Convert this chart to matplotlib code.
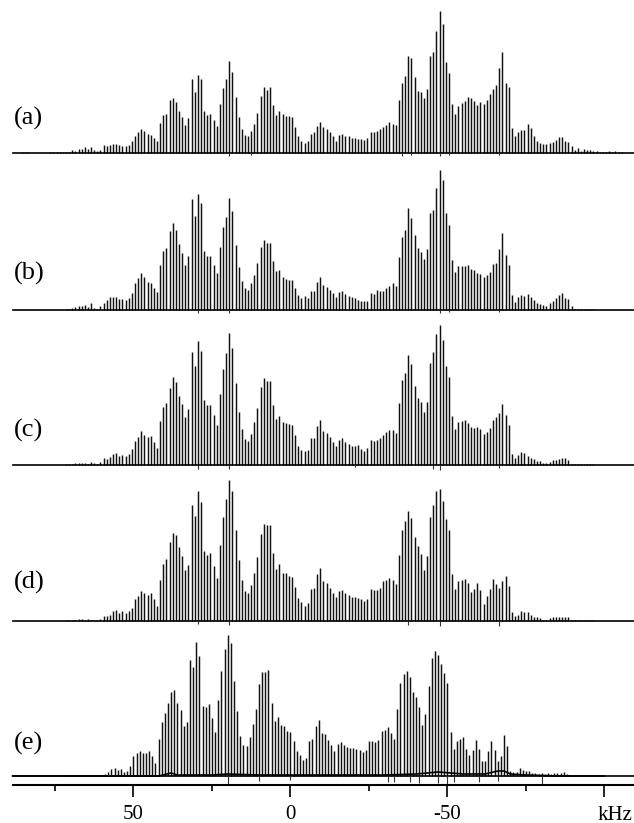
import numpy as np
import matplotlib
matplotlib.use('Agg')
import matplotlib.pyplot as plt

# stick heights, from high kHz to low kHz
spec_a = [1, 1, 1, 0, 0, 0, 0, 0, 0, 1, 1, 1, 1, 1,
          1, 1, 3, 2, 4, 4, 6, 4, 6, 3,
          2, 3, 8, 7, 8, 9, 9, 8, 7, 7,
          8, 12, 17, 21, 24, 22, 19, 18, 15, 12,
          30, 38, 39, 53, 55, 51, 42, 36, 28, 35,
          74, 61, 78, 74, 42, 38, 39, 33, 27, 49,
          65, 74, 92, 81, 56, 36, 24, 18, 17, 22,
          29, 40, 57, 66, 63, 66, 48, 38, 42, 39,
          37, 37, 36, 26, 17, 12, 10, 12, 19, 21,
          27, 31,
          26, 24, 21, 17, 12, 18, 19, 17, 17, 15,
          15, 14, 14, 13, 15, 21, 21, 22, 24, 26,
          28, 31, 29, 28, 53, 70, 77, 97, 95, 76,
          62, 61, 55, 64, 97, 101, 122, 142, 129, 91,
          80, 49, 39, 47, 50, 52, 56, 55, 52, 48,
          51, 49, 53, 59, 64, 68, 85, 101, 70, 66,
          25, 17, 21, 23, 23, 29, 25, 17, 12, 10,
          9, 9, 10, 11, 13, 16, 16, 12, 11, 7,
          3, 5, 2, 4, 3, 3, 2, 2, 1, 1, 1, 2, 1, 2, 1, 1]
spec_b = [1, 1, 2, 3, 4, 4, 5, 3, 7, 2,
          1, 4, 7, 10, 13, 13, 13, 11, 11, 10,
          12, 17, 27, 32, 37, 33, 28, 27, 22, 18,
          45, 59, 62, 79, 87, 80, 66, 57, 45, 54,
          111, 94, 116, 107, 59, 54, 54, 45, 37, 63,
          83, 93, 112, 99, 65, 43, 29, 22, 20, 27,
          35, 47, 63, 70, 67, 67, 49, 39, 40, 33,
          31, 30, 30, 22, 15, 12, 14, 12, 19, 19,
          28, 33, 25, 23, 20,
          17, 13, 18, 19, 16, 14, 13, 12, 10, 9,
          9, 9, 17, 16, 20, 19, 19, 22, 24, 27,
          24, 53, 73, 80, 102, 92, 75, 62, 58, 51,
          61, 97, 100, 122, 140, 130, 97, 85, 50, 38,
          44, 44, 44, 45, 41, 40, 37, 36, 33, 35,
          38, 46, 47, 61, 77, 55, 45, 15, 8, 13,
          15, 14, 16, 13, 10, 7, 6, 5, 4, 7,
          9, 12, 15, 17, 12, 11, 4, 1, 1, 1,
          1, 1, 1, 1]
spec_c = [1, 1, 1, 2, 2, 2, 2, 1, 3, 2,
          1, 3, 7, 6, 8, 11, 12, 9, 10, 9,
          11, 16, 24, 28, 34, 30, 28, 29, 23, 17,
          44, 58, 62, 77, 88, 83, 69, 61, 48, 56,
          113, 99, 124, 114, 65, 60, 60, 50, 40, 71,
          96, 112, 132, 117, 82, 53, 36, 26, 24, 31,
          43, 57, 78, 87, 84, 84, 60, 46, 49, 43,
          42, 41, 40, 30, 19, 15, 14, 15, 27, 27,
          39, 45, 34, 32, 28,
          23, 19, 25, 27, 23, 21, 19, 19, 20, 16,
          14, 17, 25, 24, 25, 27, 30, 33, 35, 35,
          32, 62, 85, 92, 110, 101, 79, 67, 63, 53,
          63, 102, 113, 131, 140, 125, 99, 88, 49, 36,
          43, 44, 45, 42, 38, 37, 38, 36, 31, 33,
          37, 45, 48, 52, 61, 50, 40, 11, 7, 10,
          13, 12, 9, 7, 6, 4, 4, 2, 2, 3,
          5, 5, 6, 7, 7, 5, 1, 1, 1, 1,
          1, 1, 1, 1]
spec_d = [1, 1, 1, 1, 2, 2, 1, 2, 1, 1,
          1, 2, 5, 5, 6, 10, 11, 8, 10, 8,
          10, 13, 22, 25, 30, 28, 26, 28, 22, 15,
          41, 57, 62, 79, 88, 86, 74, 65, 51, 56,
          116, 105, 130, 119, 70, 66, 68, 55, 43, 76,
          104, 122, 141, 130, 91, 61, 41, 30, 28, 36,
          48, 64, 87, 97, 96, 96, 68, 52, 57, 48,
          48, 45, 44, 34, 23, 19, 15, 18, 32, 33,
          47, 53, 40, 38, 33,
          28, 24, 30, 31, 28, 26, 24, 24, 23, 22,
          20, 22, 32, 31, 31, 33, 40, 41, 43, 41,
          37, 66, 91, 100, 110, 103, 84, 75, 67, 51,
          65, 104, 116, 130, 132, 120, 102, 91, 47, 32,
          40, 41, 42, 38, 29, 32, 38, 31, 17, 25,
          32, 42, 37, 33, 40, 45, 35, 9, 5, 6,
          10, 9, 9, 6, 4, 4, 3, 1, 1, 3,
          4, 4, 4, 4, 4, 4, 1, 1, 1, 1,
          1, 1, 1, 1]
spec_e = [1, 1, 1, 1, 1, 1, 1, 1, 1, 1, 1,
          1, 2, 4, 7, 8, 6, 7, 4, 5, 10,
          20, 23, 25, 23, 23, 25, 20, 13, 37, 54,
          63, 73, 84, 86, 73, 66, 50, 54, 116, 109,
          134, 120, 70, 69, 72, 58, 44, 76, 105, 127,
          141, 133, 95, 65, 40, 31, 30, 39, 52, 67,
          92, 104, 104, 106, 73, 55, 59, 51, 50, 45,
          44, 35, 25, 21, 16, 18, 35, 37, 50, 56,
          43, 42, 36, 31, 25, 32, 34, 31, 29, 28,
          28, 27, 26, 24, 26, 35, 35, 34, 36, 45,
          46, 49, 43, 37, 67, 93, 102, 105, 99, 84,
          79, 69, 51, 62, 90, 118, 125, 121, 112, 103,
          93, 44, 27, 35, 37, 39, 27, 21, 26, 36,
          27, 15, 15, 25, 35, 26, 15, 20, 41, 30,
          5, 4, 4, 8, 6, 5, 5, 3, 3, 2,
          3, 2, 3, 2, 3, 3, 3, 4, 2, 1]
spectra = [spec_a, spec_b, spec_c, spec_d, spec_e]

# downward glitches under the baseline: kHz and depth
dips_khz = [[19.5, 12.5, -35.5, -38.5, -47.5, -50.5, -66.5],
            [29.5, 19.5, -47.5, -50.5, -66.5],
            [19.5, 29.5, -47.5, -45.5, -66.5, -20.5],
            [19.5, 29.5, -37.5, -47.5, -66.5],
            [20, 10, 0, -31, -33, -38, -41, -47, -50, -52, -60, -66, -80]]
dips_depth = [[3, 2, 3, 2, 3, 2, 2],
              [3, 3, 3, 2, 2],
              [4, 4, 5, 4, 3, 2],
              [4, 3, 4, 5, 5],
              [8, 5, 4, 6, 6, 6, 7, 7, 9, 6, 6, 5, 8]]

# raised baseline of (e), read at a few places
hump_khz = [88.5, 42, 38, 36, 25, 20, 10, -20, -30, -40, -47, -55, -62, -66, -68, -70, -75, -85, -100]
hump_val = [0, 0, 3, 1, 1, 2, 1, 1, 1, 2, 4, 2, 2, 5, 5, 2, 1, 0, 0]

labels = ['(a)', '(b)', '(c)', '(d)', '(e)']
first_khz = [85.5, 71.5, 71.5, 71.5, 71]
baselines = [153, 310, 465, 621, 776]
label_y = [118, 273, 430, 582, 743]

major_ticks = [50, 0, -50, -100]
minor_ticks = [75, 25, -25, -75]
major_labels = ['50', '0', '-50', '']

fig = plt.figure(figsize=(6.34, 8.23), dpi=100)
ax = fig.add_axes([0, 0, 1, 1])
ax.set_xlim(92.5, -109.4)
ax.set_ylim(823, 0)
ax.patch.set_visible(False)

serif = 'Liberation Serif'
ink = '#111111'

for i in range(5):
    y0 = baselines[i]
    h = np.array(spectra[i], dtype=float)
    x = first_khz[i] - np.arange(len(h))
    ax.vlines(x, y0 - h, y0, color=ink, lw=1.05)
    ax.plot([88.5, -109.4], [y0, y0], color='black', lw=1.2)
    ax.vlines(dips_khz[i], y0, y0 + np.array(dips_depth[i]), color='#333333', lw=0.8)
    ax.text(88, label_y[i], labels[i], fontsize=19, family=serif, va='center', ha='left')

ax.plot(hump_khz, baselines[4] - np.array(hump_val), color='black', lw=1.2)

for s in ['top', 'left', 'right']:
    ax.spines[s].set_visible(False)
ax.spines['bottom'].set_position(('data', 785))
ax.spines['bottom'].set_bounds(88.5, -109.4)
ax.spines['bottom'].set_linewidth(1.5)
ax.yaxis.set_visible(False)
ax.set_xticks(major_ticks)
ax.set_xticklabels(major_labels, fontsize=15, family=serif)
ax.set_xticks(minor_ticks, minor=True)
ax.tick_params(axis='x', which='major', length=8.5, width=1.2, pad=6)
ax.tick_params(axis='x', which='minor', length=4.3, width=1.2)
ax.text(-103.2, 815, 'kHz', fontsize=15, family=serif, ha='center', va='center')

fig.savefig('out.png', dpi=100)
